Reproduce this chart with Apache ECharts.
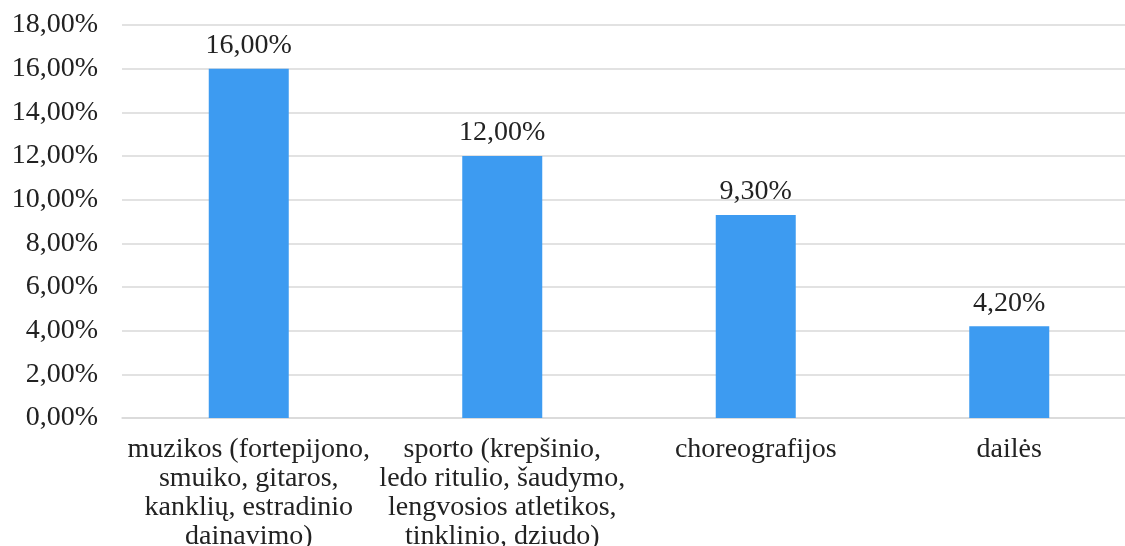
<!DOCTYPE html>
<html>
<head>
<meta charset="utf-8">
<script src="https://cdn.jsdelivr.net/npm/echarts@6/dist/echarts.min.js"></script>
<style>html,body{margin:0;padding:0;background:#fff;overflow:hidden;}#c{width:1125px;height:546px;}</style>
</head>
<body>
<div id="c"></div>
<script>
const categories = [
  "muzikos (fortepijono,\nsmuiko, gitaros,\nkanklių, estradinio\ndainavimo)",
  "sporto (krepšinio,\nledo ritulio, šaudymo,\nlengvosios atletikos,\ntinklinio, dziudo)",
  "choreografijos",
  "dailės"
];
const values = [16.0, 12.0, 9.3, 4.2];
const fmt = v => v.toFixed(2).replace('.', ',') + '%';
const font = '"Liberation Serif", "Times New Roman", serif';
const chart = echarts.init(document.getElementById('c'));
chart.setOption({
  animation: false,
  grid: { left: 122, right: -11, top: 25, bottom: 128, outerBoundsMode: 'none', containLabel: false },
  xAxis: {
    type: 'category',
    data: categories,
    axisLine: { show: true, lineStyle: { color: '#d9d9d9', width: 1.5 } },
    axisTick: { show: false },
    axisLabel: { fontFamily: font, fontSize: 28, color: '#222', lineHeight: 29, margin: 17, interval: 0 }
  },
  yAxis: {
    type: 'value',
    min: 0, max: 18, interval: 2,
    axisLine: { show: false },
    axisTick: { show: false },
    splitLine: { lineStyle: { color: '#d9d9d9', width: 1.5 } },
    axisLabel: { fontFamily: font, fontSize: 28, color: '#222', margin: 24, formatter: v => fmt(v) }
  },
  series: [{
    type: 'bar',
    data: values,
    barWidth: 80,
    itemStyle: { color: '#3d9bf1' },
    label: { show: true, position: 'top', distance: 9, fontFamily: font, fontSize: 28, color: '#222', formatter: p => fmt(p.value) }
  }]
});
</script>
</body>
</html>
